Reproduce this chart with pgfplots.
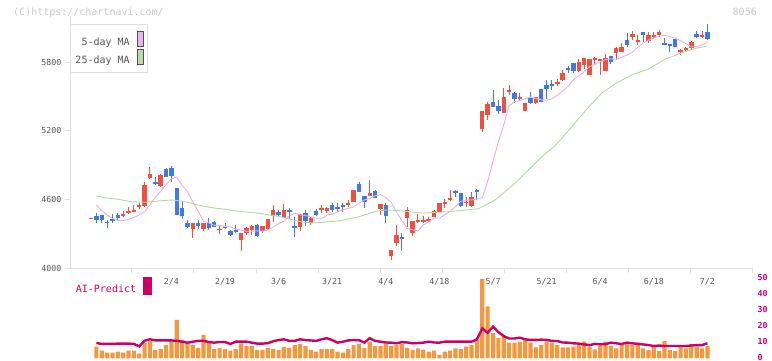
\documentclass[border=0pt]{standalone}
\usepackage{pgfplots}
\pgfplotsset{compat=1.18}
\usepackage{pgfplotstable}
\usepackage{fontspec}
\setmainfont{DejaVu Sans Mono}
\definecolor{redc}{HTML}{F05040}
\definecolor{bluec}{HTML}{4078E8}
\definecolor{orangec}{HTML}{F2983F}
\definecolor{magc}{HTML}{CC0066}
\definecolor{pinkc}{HTML}{E4B0E6}
\definecolor{greenc}{HTML}{B2D8A2}
\definecolor{pinksw}{HTML}{E8B8E8}
\definecolor{greensw}{HTML}{B8DCA8}
\definecolor{swgray}{HTML}{505050}
\definecolor{axisc}{HTML}{E0E0E0}
\definecolor{textc}{HTML}{555555}
\definecolor{copyc}{HTML}{C8C8C8}
\newcommand\ticksize{\fontsize{8.3pt}{10pt}\selectfont}
\newcommand\labsize{\fontsize{10pt}{12pt}\selectfont}

% up (red) candles: index open high low close
\pgfplotstableread{
i o h l c
0 4436 4440 4432 4436
6 4456 4500 4450 4474
7 4485 4535 4474 4503
8 4494 4552 4491 4511
9 4532 4572 4515 4552
10 4544 4756 4537 4727
11 4788 4886 4777 4823
13 4718 4823 4707 4814
19 4346 4395 4264 4395
21 4346 4393 4325 4393
24 4332 4375 4299 4346
28 4247 4305 4154 4305
29 4305 4363 4291 4349
30 4334 4378 4291 4369
32 4328 4369 4305 4369
33 4340 4428 4334 4428
34 4456 4552 4407 4509
36 4442 4561 4436 4509
39 4363 4474 4325 4474
41 4398 4450 4378 4436
43 4517 4552 4480 4523
44 4503 4532 4485 4529
48 4555 4596 4537 4572
49 4581 4683 4576 4683
52 4633 4770 4631 4660
54 4520 4561 4465 4561
56 4107 4160 4072 4160
57 4223 4378 4195 4291
59 4442 4537 4363 4509
60 4305 4413 4285 4413
61 4407 4474 4393 4421
62 4407 4456 4393 4421
63 4415 4450 4401 4428
64 4450 4509 4445 4500
65 4494 4572 4489 4567
66 4567 4602 4523 4581
67 4602 4683 4590 4616
70 4572 4619 4537 4581
71 4544 4663 4537 4625
73 5215 5372 5192 5372
74 5338 5454 5294 5431
77 5358 5570 5358 5497
78 5547 5599 5512 5556
80 5477 5527 5462 5492
81 5375 5445 5375 5445
83 5445 5492 5431 5492
87 5608 5649 5591 5628
88 5643 5730 5637 5707
91 5724 5824 5715 5797
92 5774 5838 5736 5832
93 5687 5824 5687 5824
94 5817 5846 5780 5832
95 5809 5824 5687 5824
96 5724 5867 5724 5832
98 5881 5933 5817 5919
99 5890 5963 5885 5928
101 6021 6070 5992 6044
102 5983 6035 5948 5992
104 5986 6064 5968 6035
105 6027 6064 5998 6035
106 6035 6079 6021 6059
110 5890 5911 5861 5905
111 5911 5933 5890 5919
112 5919 5983 5911 5972
114 6015 6070 6007 6035
}\redtab

% down (blue) candles
\pgfplotstableread{
i o h l c
1 4456 4480 4393 4421
2 4465 4465 4398 4421
3 4407 4421 4354 4393
4 4433 4471 4393 4413
5 4465 4480 4415 4436
12 4756 4794 4727 4738
14 4866 4873 4794 4799
15 4873 4893 4756 4808
16 4703 4703 4465 4465
17 4523 4581 4430 4459
18 4395 4421 4352 4363
20 4393 4421 4340 4369
22 4393 4436 4334 4354
23 4404 4415 4358 4363
25 4369 4393 4340 4354
26 4325 4334 4282 4293
27 4337 4378 4311 4319
31 4378 4387 4276 4282
35 4494 4509 4459 4465
37 4509 4523 4428 4494
38 4363 4450 4276 4358
40 4480 4509 4372 4415
42 4500 4517 4459 4468
45 4552 4567 4491 4509
46 4532 4567 4494 4523
47 4552 4567 4494 4541
50 4735 4750 4663 4668
51 4631 4631 4529 4581
53 4677 4683 4611 4616
55 4552 4567 4398 4459
58 4267 4305 4154 4262
68 4674 4683 4625 4663
69 4654 4660 4532 4544
72 4683 4689 4596 4668
75 5448 5556 5405 5410
76 5416 5468 5346 5375
79 5532 5541 5445 5475
82 5489 5536 5431 5445
84 5562 5562 5448 5454
85 5599 5643 5475 5562
86 5608 5643 5556 5599
89 5745 5765 5701 5730
90 5794 5794 5701 5724
97 5852 5852 5780 5803
100 5992 6050 5928 5948
103 6059 6059 5977 6035
107 5963 6007 5948 5954
108 5957 5957 5890 5948
109 5998 5998 5928 5933
113 6044 6070 6007 6015
115 6059 6131 5992 6001
}\bluetab

% 5-day moving average
\pgfplotstableread{
i v
1 4552
2 4505
3 4465
4 4435
5 4417
6 4417
7 4427
8 4444
9 4467
10 4495
11 4553
12 4623
13 4670
14 4731
15 4780
16 4796
17 4725
18 4669
19 4579
20 4498
21 4410
22 4396
23 4375
24 4375
25 4365
26 4362
27 4342
28 4335
29 4323
30 4324
31 4327
32 4325
33 4335
34 4359
35 4391
36 4411
37 4456
38 4481
39 4467
40 4460
41 4450
42 4435
43 4430
44 4463
45 4474
46 4493
47 4510
48 4525
49 4535
50 4566
51 4597
52 4609
53 4633
54 4642
55 4617
56 4575
57 4491
58 4417
59 4347
60 4336
61 4327
62 4379
63 4405
64 4438
65 4437
66 4467
67 4499
68 4538
69 4585
70 4594
71 4597
72 4606
73 4616
74 4758
75 4935
76 5101
77 5251
78 5417
79 5454
80 5463
81 5479
82 5493
83 5483
84 5470
85 5466
86 5480
87 5510
88 5547
89 5590
90 5645
91 5678
92 5717
93 5758
94 5781
95 5802
96 5822
97 5829
98 5823
99 5842
100 5861
101 5886
102 5928
103 5966
104 5989
105 6011
106 6028
107 6031
108 6024
109 6006
110 5986
111 5960
112 5932
113 5935
114 5949
115 5969
}\mafive

% 25-day moving average
\pgfplotstableread{
i v
1 4631
2.6 4616
5 4602
7.6 4581
10 4576
13.2 4590
15.3 4596
17.5 4581
20 4552
22.5 4529
25 4515
27.8 4496
31.5 4480
35.3 4450
39 4407
41.5 4395
44 4405
46.5 4415
49.6 4445
53.3 4500
55.2 4509
57.6 4503
61.7 4482
66.7 4494
72.3 4520
75.4 4596
79.1 4742
81.6 4858
84.1 4974
86.6 5070
89.7 5235
92.8 5405
95.3 5530
98.1 5619
100.9 5687
104 5740
107.1 5824
110.2 5881
112.7 5919
115 5940
}\matwentyfive

% volume (relative)
\pgfplotstableread{
i v
1 7.4
2 4.9
3 3.6
4 3.6
5 4.3
6 3.6
7 4.9
8 4.9
9 3.0
10 9.9
11 10.9
12 5.3
13 5.9
14 8.4
15 11.6
16 24.1
17 11.6
18 9.9
19 8.4
20 6.6
21 14.7
22 9.9
23 5.9
24 6.6
25 5.9
26 4.9
27 5.9
28 9.5
29 7.8
30 7.8
31 5.3
32 5.3
33 6.6
34 5.9
35 5.3
36 7.2
37 6.6
38 8.4
39 9.1
40 7.8
41 5.3
42 4.3
43 5.9
44 5.9
45 5.9
46 4.3
47 3.6
48 5.9
49 8.4
50 9.1
51 6.6
52 10.5
53 7.8
54 7.8
55 9.5
56 7.8
57 8.4
58 9.0
59 6.8
60 5.3
61 6.4
62 5.5
63 4.3
64 4.9
65 2.2
66 4.3
67 4.9
68 6.4
69 5.9
70 7.4
71 8.4
72 12.0
73 49.7
74 32.5
75 15.8
76 12.7
77 13.8
78 9.9
79 9.9
80 10.5
81 11.6
82 9.9
83 7.0
84 8.4
85 10.5
86 9.9
87 8.4
88 7.0
89 7.0
90 7.4
91 8.4
92 10.5
93 7.4
94 5.7
95 7.8
96 10.5
97 7.8
98 6.4
99 8.4
100 9.1
101 8.4
102 9.9
103 6.4
104 5.3
105 7.4
106 4.7
107 10.9
108 5.3
109 4.7
110 7.4
111 6.4
112 9.1
113 7.4
114 6.4
115 7.8
}\voltab

% AI-Predict line
\pgfplotstableread{
i v
1 9.7
2 9.1
3 9.1
4 9.1
5 9.3
6 9.3
7 9.3
8 9.1
9 7.6
10 11.1
11 12.0
12 11.3
13 11.3
14 11.3
15 11.3
16 11.0
17 10.5
18 9.9
19 10.5
20 11.0
21 11.0
22 10.3
23 9.9
24 10.3
25 10.3
26 9.1
27 10.5
28 10.5
29 10.5
30 9.9
31 9.3
32 9.3
33 9.6
34 10.8
35 11.5
36 12.0
37 11.0
38 11.0
39 12.0
40 11.5
41 11.3
42 11.0
43 12.0
44 12.7
45 11.5
46 9.9
47 10.5
48 11.3
49 11.5
50 11.5
51 9.9
52 12.7
53 11.0
54 10.5
55 10.0
56 9.9
57 9.5
58 10.2
59 10.0
60 9.5
61 9.7
62 9.9
63 10.5
64 10.0
65 9.9
66 10.5
67 10.5
68 10.5
69 10.5
70 10.5
71 10.5
72 12.0
73 18.8
74 16.1
75 19.9
76 16.5
77 14.0
78 12.5
79 12.5
80 13.0
81 12.0
82 11.6
83 11.6
84 11.8
85 11.6
86 11.0
87 10.9
88 10.0
89 9.9
90 9.5
91 9.3
92 8.8
93 8.4
94 9.1
95 8.8
96 9.0
97 9.9
98 9.5
99 9.1
100 9.9
101 9.5
102 9.1
103 8.8
104 8.4
105 7.8
106 8.1
107 7.8
108 7.8
109 7.8
110 7.8
111 7.8
112 8.1
113 8.4
114 8.4
115 9.5
}\aitab

\begin{document}
\begin{tikzpicture}
\path[use as bounding box] (0,0) rectangle (772pt,361pt);

\node[anchor=west, inner sep=0pt, text=copyc, font=\labsize] at (13pt,348.5pt) {(C)https://chartnavi.com/};
\node[anchor=east, inner sep=0pt, text=copyc, font=\labsize] at (757pt,349.5pt) {8056};

% ---------------- price panel ----------------
\begin{axis}[
  at={(70pt,92.7pt)}, anchor=south west,
  scale only axis, width=682pt, height=252.1pt,
  xmin=-3.918, xmax=123.321, ymin=4000, ymax=6200,
  axis x line*=bottom, axis y line*=left,
  axis line style={draw=axisc, line width=1pt},
  tick align=outside, major tick length=5pt,
  tick style={draw=axisc, line width=1pt},
  ytick={4000,4600,5200,5800},
  yticklabel style={font=\ticksize, text=textc},
  /pgf/number format/1000 sep={},
  /pgf/number format/assume math mode=true,
  xtick={7.649,19.216,30.784,42.351,53.918,65.485,77.052,88.619,100.187,111.754,123.321},
  xticklabels={},
  extra x ticks={15,25,35,45,55,65,75,85,95,105,115},
  extra x tick labels={2/4,2/19,3/6,3/21,4/4,4/18,5/7,5/21,6/4,6/18,7/2},
  extra x tick style={major tick length=0pt, tick style={draw=none},
     xticklabel style={font=\ticksize, text=textc, anchor=north, inner sep=0pt, yshift=-10pt}},
  clip=false,
  legend style={at={(axis description cs:0,0.9691)}, anchor=north west,
     draw=axisc, line width=1pt, fill=white, font=\labsize, text=textc,
     inner xsep=4pt, inner ysep=6.5pt, row sep=1.2pt,
     nodes={inner sep=1pt}},
  legend cell align=right,
  legend plot pos=right,
]
% wicks
\addplot[draw=none, mark=none, forget plot,
  error bars/.cd, y dir=both, y explicit, error mark=none,
  error bar style={draw=redc, line width=1pt}]
  table[x=i, y expr={(\thisrow{h}+\thisrow{l})/2}, y error expr={(\thisrow{h}-\thisrow{l})/2}]{\redtab};
\addplot[draw=none, mark=none, forget plot,
  error bars/.cd, y dir=both, y explicit, error mark=none,
  error bar style={draw=bluec, line width=1pt}]
  table[x=i, y expr={(\thisrow{h}+\thisrow{l})/2}, y error expr={(\thisrow{h}-\thisrow{l})/2}]{\bluetab};
% bodies
\addplot[draw=none, mark=none, forget plot,
  error bars/.cd, y dir=both, y explicit, error mark=none,
  error bar style={draw=redc, line width=4.4pt}]
  table[x=i, y expr={(\thisrow{o}+\thisrow{c})/2}, y error expr={max(abs(\thisrow{c}-\thisrow{o})/2,5)}]{\redtab};
\addplot[draw=none, mark=none, forget plot,
  error bars/.cd, y dir=both, y explicit, error mark=none,
  error bar style={draw=bluec, line width=4.4pt}]
  table[x=i, y expr={(\thisrow{o}+\thisrow{c})/2}, y error expr={max(abs(\thisrow{c}-\thisrow{o})/2,5)}]{\bluetab};
% moving averages
\addplot[pinkc, line width=0.9pt, mark=none,
  legend image code/.code={\path (0pt,0pt); \draw[fill=pinksw, draw=swgray, line width=0.7pt] (6pt,-4.3pt) rectangle (12.5pt,11pt);}]
  table[x=i, y=v]{\mafive};
\addlegendentry{5-day MA}
\addplot[greenc, line width=0.9pt, mark=none,
  legend image code/.code={\path (0pt,0pt); \draw[fill=greensw, draw=swgray, line width=0.7pt] (6pt,-4.3pt) rectangle (12.5pt,11pt);}]
  table[x=i, y=v]{\matwentyfive};
\addlegendentry{25-day MA}
\end{axis}

% ---------------- AI-Predict / volume panel ----------------
\begin{axis}[
  at={(70pt,2.5pt)}, anchor=south west,
  scale only axis, width=682pt, height=80pt,
  xmin=-3.918, xmax=123.321, ymin=0, ymax=50,
  axis x line*=bottom, axis y line*=right,
  axis line style={draw=none},
  xtick=\empty,
  ytick={0,10,20,30,40,50},
  major tick length=0pt, tick style={draw=none},
  yticklabel style={font=\ticksize\bfseries, text=magc, xshift=2pt, yshift=1.2pt},
  /pgf/number format/assume math mode=true,
  clip=false,
  legend style={at={(axis description cs:0,1.0225)}, anchor=north west, xshift=5.7pt,
     draw=none, fill=none, font=\labsize, text=magc,
     inner sep=0pt, nodes={inner sep=0pt}},
  legend plot pos=right,
]
\addplot[ybar, bar width=4.2pt, fill=orangec, draw=none, forget plot] table[x=i, y=v]{\voltab};
\addplot[magc, line width=2.4pt, mark=none,
  legend image code/.code={\path (0pt,0pt); \fill[magc] (7pt,-5pt) rectangle (13.4pt,11pt);}]
  table[x=i, y=v]{\aitab};
\addlegendentry{AI-Predict}
\end{axis}
\end{tikzpicture}
\end{document}
